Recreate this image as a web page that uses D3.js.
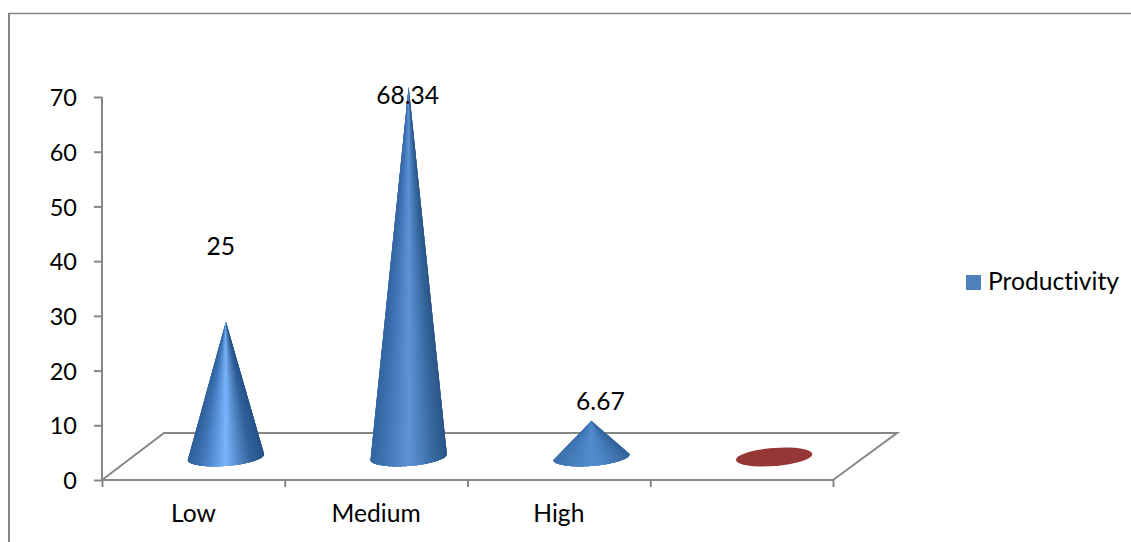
<!DOCTYPE html>
<html>
<head>
<meta charset="utf-8">
<script src="https://cdn.jsdelivr.net/npm/d3@7"></script>
<style>
  html, body { margin: 0; padding: 0; background: #fff; }
  svg { display: block; }
  text { font-family: Lato, "Open Sans", sans-serif; font-size: 24.6px; fill: #000; font-variant-ligatures: none; }
</style>
</head>
<body>
<svg id="chart" width="1131" height="542"></svg>
<script>
const categories = ["Low", "Medium", "High", ""];
const productivity = [25, 68.34, 6.67, 0];
const valueLabels = ["25", "68.34", "6.67", ""];
const yTicks = [0, 10, 20, 30, 40, 50, 60, 70];
const seriesName = "Productivity";

const axisColor = "#868686";
const svg = d3.select("#chart");

// Chart frame: only the top and left edges are visible
svg.append("path").attr("d", "M9,542V13")
  .attr("fill", "none").attr("stroke", axisColor).attr("stroke-width", 2);
svg.append("path").attr("d", "M8,13.5H1131")
  .attr("fill", "none").attr("stroke", axisColor).attr("stroke-width", 1.5);

const x = d3.scaleBand().domain(d3.range(categories.length)).range([102, 833]);
const y = d3.scaleLinear().domain([0, 70]).range([480, 97]);

// Oblique projection: depth of the floor, cones stand half way in
const depth = { dx: 62, dy: -47 };
const coneHeight = d3.scaleLinear().domain([0, 70]).range([0, 379]);

// Floor
svg.append("path")
  .attr("d", `M${x.range()[0]},480L${x.range()[0] + depth.dx},${480 + depth.dy}H${x.range()[1] + depth.dx + 2}L${x.range()[1]},480`)
  .attr("fill", "none").attr("stroke", axisColor).attr("stroke-width", 2);

// Axes
const yAxis = d3.axisLeft(y).tickValues(yTicks).tickSize(8).tickPadding(17);
const yG = svg.append("g").attr("transform", "translate(102,0)").call(yAxis);
const xTickScale = d3.scaleLinear().domain([0, categories.length]).range(x.range());
const xAxis = d3.axisBottom(xTickScale)
  .tickValues(d3.range(categories.length + 1)).tickSize(7).tickFormat("");
const xG = svg.append("g").attr("transform", "translate(0,480)").call(xAxis);
for (const g of [yG, xG]) {
  g.selectAll(".domain, line").attr("stroke", axisColor).attr("stroke-width", 2);
  g.select(".domain").attr("d", g === yG ? "M0,97V480" : `M${x.range()[0]},0H${x.range()[1]}`);
}
yG.selectAll("text").attr("fill", "#000").attr("dy", "0.37em").style("font-size", "23.5px")
  .style("font-family", "Lato, sans-serif");

// Category names
svg.selectAll(".cat").data(categories).join("text")
  .attr("class", "cat")
  .attr("text-anchor", "middle")
  .attr("x", (d, i) => x(i) + x.bandwidth() / 2)
  .attr("y", 522)
  .text(d => d);

// Cones
const baseRx = 38.3, baseRy = 9, tilt = -4.5 * Math.PI / 180;
const coneInsetX = 32.5, coneBaseY = 457;
function basePoint(cx, cy, t) {
  const ex = baseRx * Math.cos(t), ey = baseRy * Math.sin(t);
  return [cx + ex * Math.cos(tilt) - ey * Math.sin(tilt),
          cy + ex * Math.sin(tilt) + ey * Math.cos(tilt)];
}

// Shading across a cone, darkest at the rims, brightest on the axis
const shadeByCone = [
  ["#2f6099", "#3f74b6", "#5a93d8", "#7bb4fb", "#5487c6", "#32639b", "#28548a"],
  ["#33659f", "#3f72b2", "#4d82c4", "#5e94d6", "#4b7fbd", "#37699f", "#2c5688"],
  ["#3d71ad", "#447cba", "#4c84c4", "#558dcd", "#4c84c4", "#4076b2", "#34649c"]
];
const sliceCount = 120;

const cones = svg.append("g");
productivity.forEach((value, i) => {
  const cx = x(i) + x.bandwidth() / 2 + coneInsetX;
  const cy = coneBaseY;
  if (value === 0) {
    // An empty category collapses to a flat disc
    cones.append("ellipse")
      .attr("rx", baseRx).attr("ry", baseRy)
      .attr("transform", `translate(${cx},${cy}) rotate(-4.5)`)
      .attr("fill", "#953735");
    return;
  }
  const apex = [cx, cy - coneHeight(value)];
  const shade = d3.scaleLinear()
    .domain(d3.range(7).map(k => k / 6))
    .range(shadeByCone[i])
    .interpolate(d3.interpolateRgb);
  // Painted left to right, each fan wedge overlapping the next so no seams show
  for (let s = 0; s < sliceCount; s++) {
    const t0 = Math.PI - (s / sliceCount) * Math.PI;
    const t1 = Math.PI - (Math.min(s + 4, sliceCount) / sliceCount) * Math.PI;
    const tm = Math.PI - ((s + 0.5) / sliceCount) * Math.PI;
    const wedge = [apex, basePoint(cx, cy, t0)];
    for (let k = 1; k <= 4; k++) {
      wedge.push(basePoint(cx, cy, t0 + (t1 - t0) * k / 4));
    }
    const u = basePoint(cx, cy, tm)[0];
    cones.append("path")
      .attr("d", d3.line()(wedge) + "Z")
      .attr("fill", shade((u - (cx - baseRx)) / (2 * baseRx)));
  }
});

// Value labels, each placed clear of its cone by hand
const labelShift = [{ x: -5, y: -67 }, { x: -1, y: 17 }, { x: 9, y: -11 }];
svg.selectAll(".val").data(valueLabels.slice(0, 3)).join("text")
  .attr("class", "val")
  .attr("text-anchor", "middle")
  .attr("x", (d, i) => x(i) + x.bandwidth() / 2 + coneInsetX + labelShift[i].x)
  .attr("y", (d, i) => coneBaseY - coneHeight(productivity[i]) + labelShift[i].y)
  .text(d => d);

// Legend
svg.append("rect").attr("x", 966).attr("y", 275).attr("width", 15).attr("height", 15).attr("fill", "#4f81bd");
svg.append("text").attr("x", 988).attr("y", 290).text(seriesName);
</script>
</body>
</html>
